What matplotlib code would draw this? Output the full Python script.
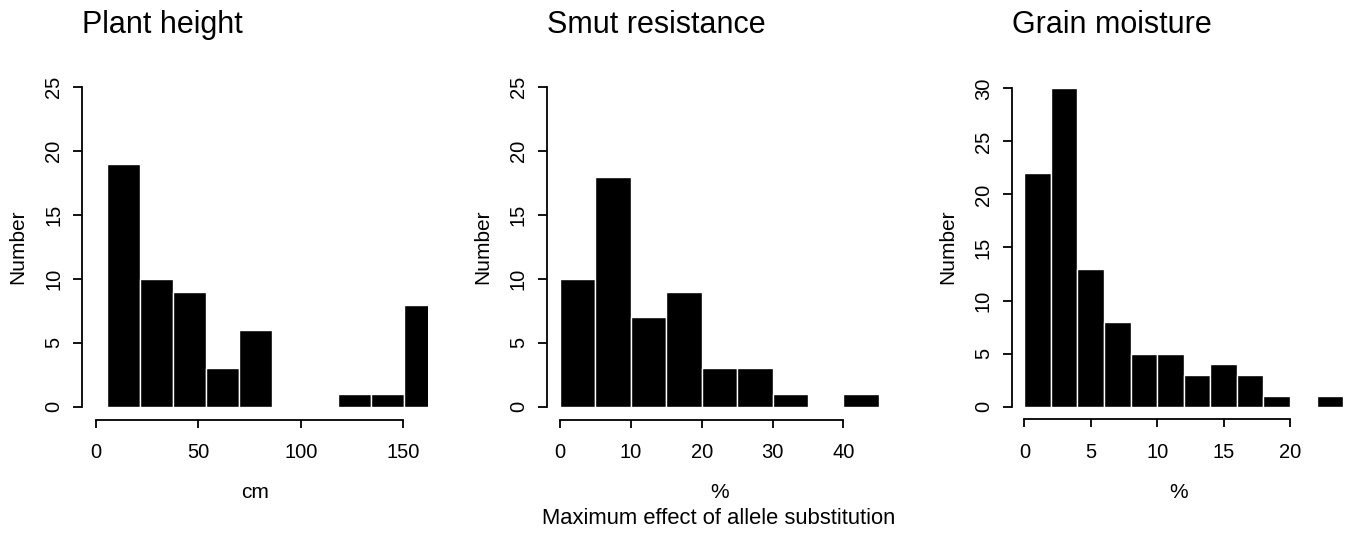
import matplotlib
matplotlib.use("Agg")
import matplotlib.pyplot as plt

plt.rcParams["font.family"] = ["Liberation Sans", "DejaVu Sans"]

# bin edges and counts
height_edges = [5.7, 21.8, 37.8, 53.9, 69.9, 86.0, 102.1, 118.1, 134.2, 150.3, 166.3]
height_counts = [19, 10, 9, 3, 6, 0, 0, 1, 1, 8]

smut_edges = [0, 5, 10, 15, 20, 25, 30, 35, 40, 45]
smut_counts = [10, 18, 7, 9, 3, 3, 1, 0, 1]

moist_edges = [0, 2, 4, 6, 8, 10, 12, 14, 16, 18, 20, 22, 24]
moist_counts = [22, 30, 13, 8, 5, 5, 3, 4, 3, 1, 0, 1]

titles = ["Plant height", "Smut resistance", "Grain moisture"]
units = ["cm", "%", "%"]
x_ticks = [[0, 50, 100, 150], [0, 10, 20, 30, 40], [0, 5, 10, 15, 20]]
y_ticks = [[0, 5, 10, 15, 20, 25], [0, 5, 10, 15, 20, 25], [0, 5, 10, 15, 20, 25, 30]]

W, H = 1346, 536
fig = plt.figure(figsize=(W / 100, H / 100), dpi=100)


def px_axes(left, top, right, bottom):
    return fig.add_axes([left / W, 1 - bottom / H, (right - left) / W, (bottom - top) / H])


# plot regions in pixels: left, top, right, bottom, plus data limits
panels = [
    ((82, 74.5, 428, 419.5), (-6.7, 162), (-1, 26)),
    ((546.7, 74.5, 891.5, 419.5), (-1.88, 46.8), (-1, 26)),
    ((1011.7, 75.6, 1346, 419.4), (-0.95, 24.21), (-1.2, 31.2)),
]
data = [(height_edges, height_counts), (smut_edges, smut_counts), (moist_edges, moist_counts)]

for i, ((box, xlim, ylim), (edges, counts)) in enumerate(zip(panels, data)):
    ax = px_axes(*box)
    widths = [b - a for a, b in zip(edges[:-1], edges[1:])]
    ax.bar(edges[:-1], counts, width=widths, align="edge", color="black",
           edgecolor="white", linewidth=1.0)
    ax.set_xlim(*xlim)
    ax.set_ylim(*ylim)

    for side in ["top", "right"]:
        ax.spines[side].set_visible(False)
    ax.spines["left"].set_bounds(y_ticks[i][0], y_ticks[i][-1])
    ax.spines["bottom"].set_bounds(x_ticks[i][0], x_ticks[i][-1])
    for side in ["left", "bottom"]:
        ax.spines[side].set_linewidth(1.3)

    ax.set_xticks(x_ticks[i])
    ax.set_yticks(y_ticks[i])
    ax.tick_params(direction="out", width=1.3, labelsize=14.5, colors="black")
    ax.tick_params(axis="x", length=5.5, pad=11.5)
    ax.tick_params(axis="y", length=6.5, pad=7)
    for lbl in ax.get_yticklabels():
        lbl.set_rotation(90)
        lbl.set_va("center")

    left, top, right, bottom = box
    cx = (left + right) / 2
    fig.text(left / W, 1 - 33 / H, titles[i], fontsize=22, ha="left", va="baseline")
    fig.text(cx / W, 1 - 492 / H, units[i], fontsize=15, ha="center", va="center")
    fig.text((left - 64) / W, 1 - 247 / H, "Number", fontsize=15, rotation=90,
             ha="center", va="center")

fig.text(719 / W, 1 - 518 / H, "Maximum effect of allele substitution",
         fontsize=15.8, ha="center", va="center")

fig.savefig("out.png", dpi=100)
